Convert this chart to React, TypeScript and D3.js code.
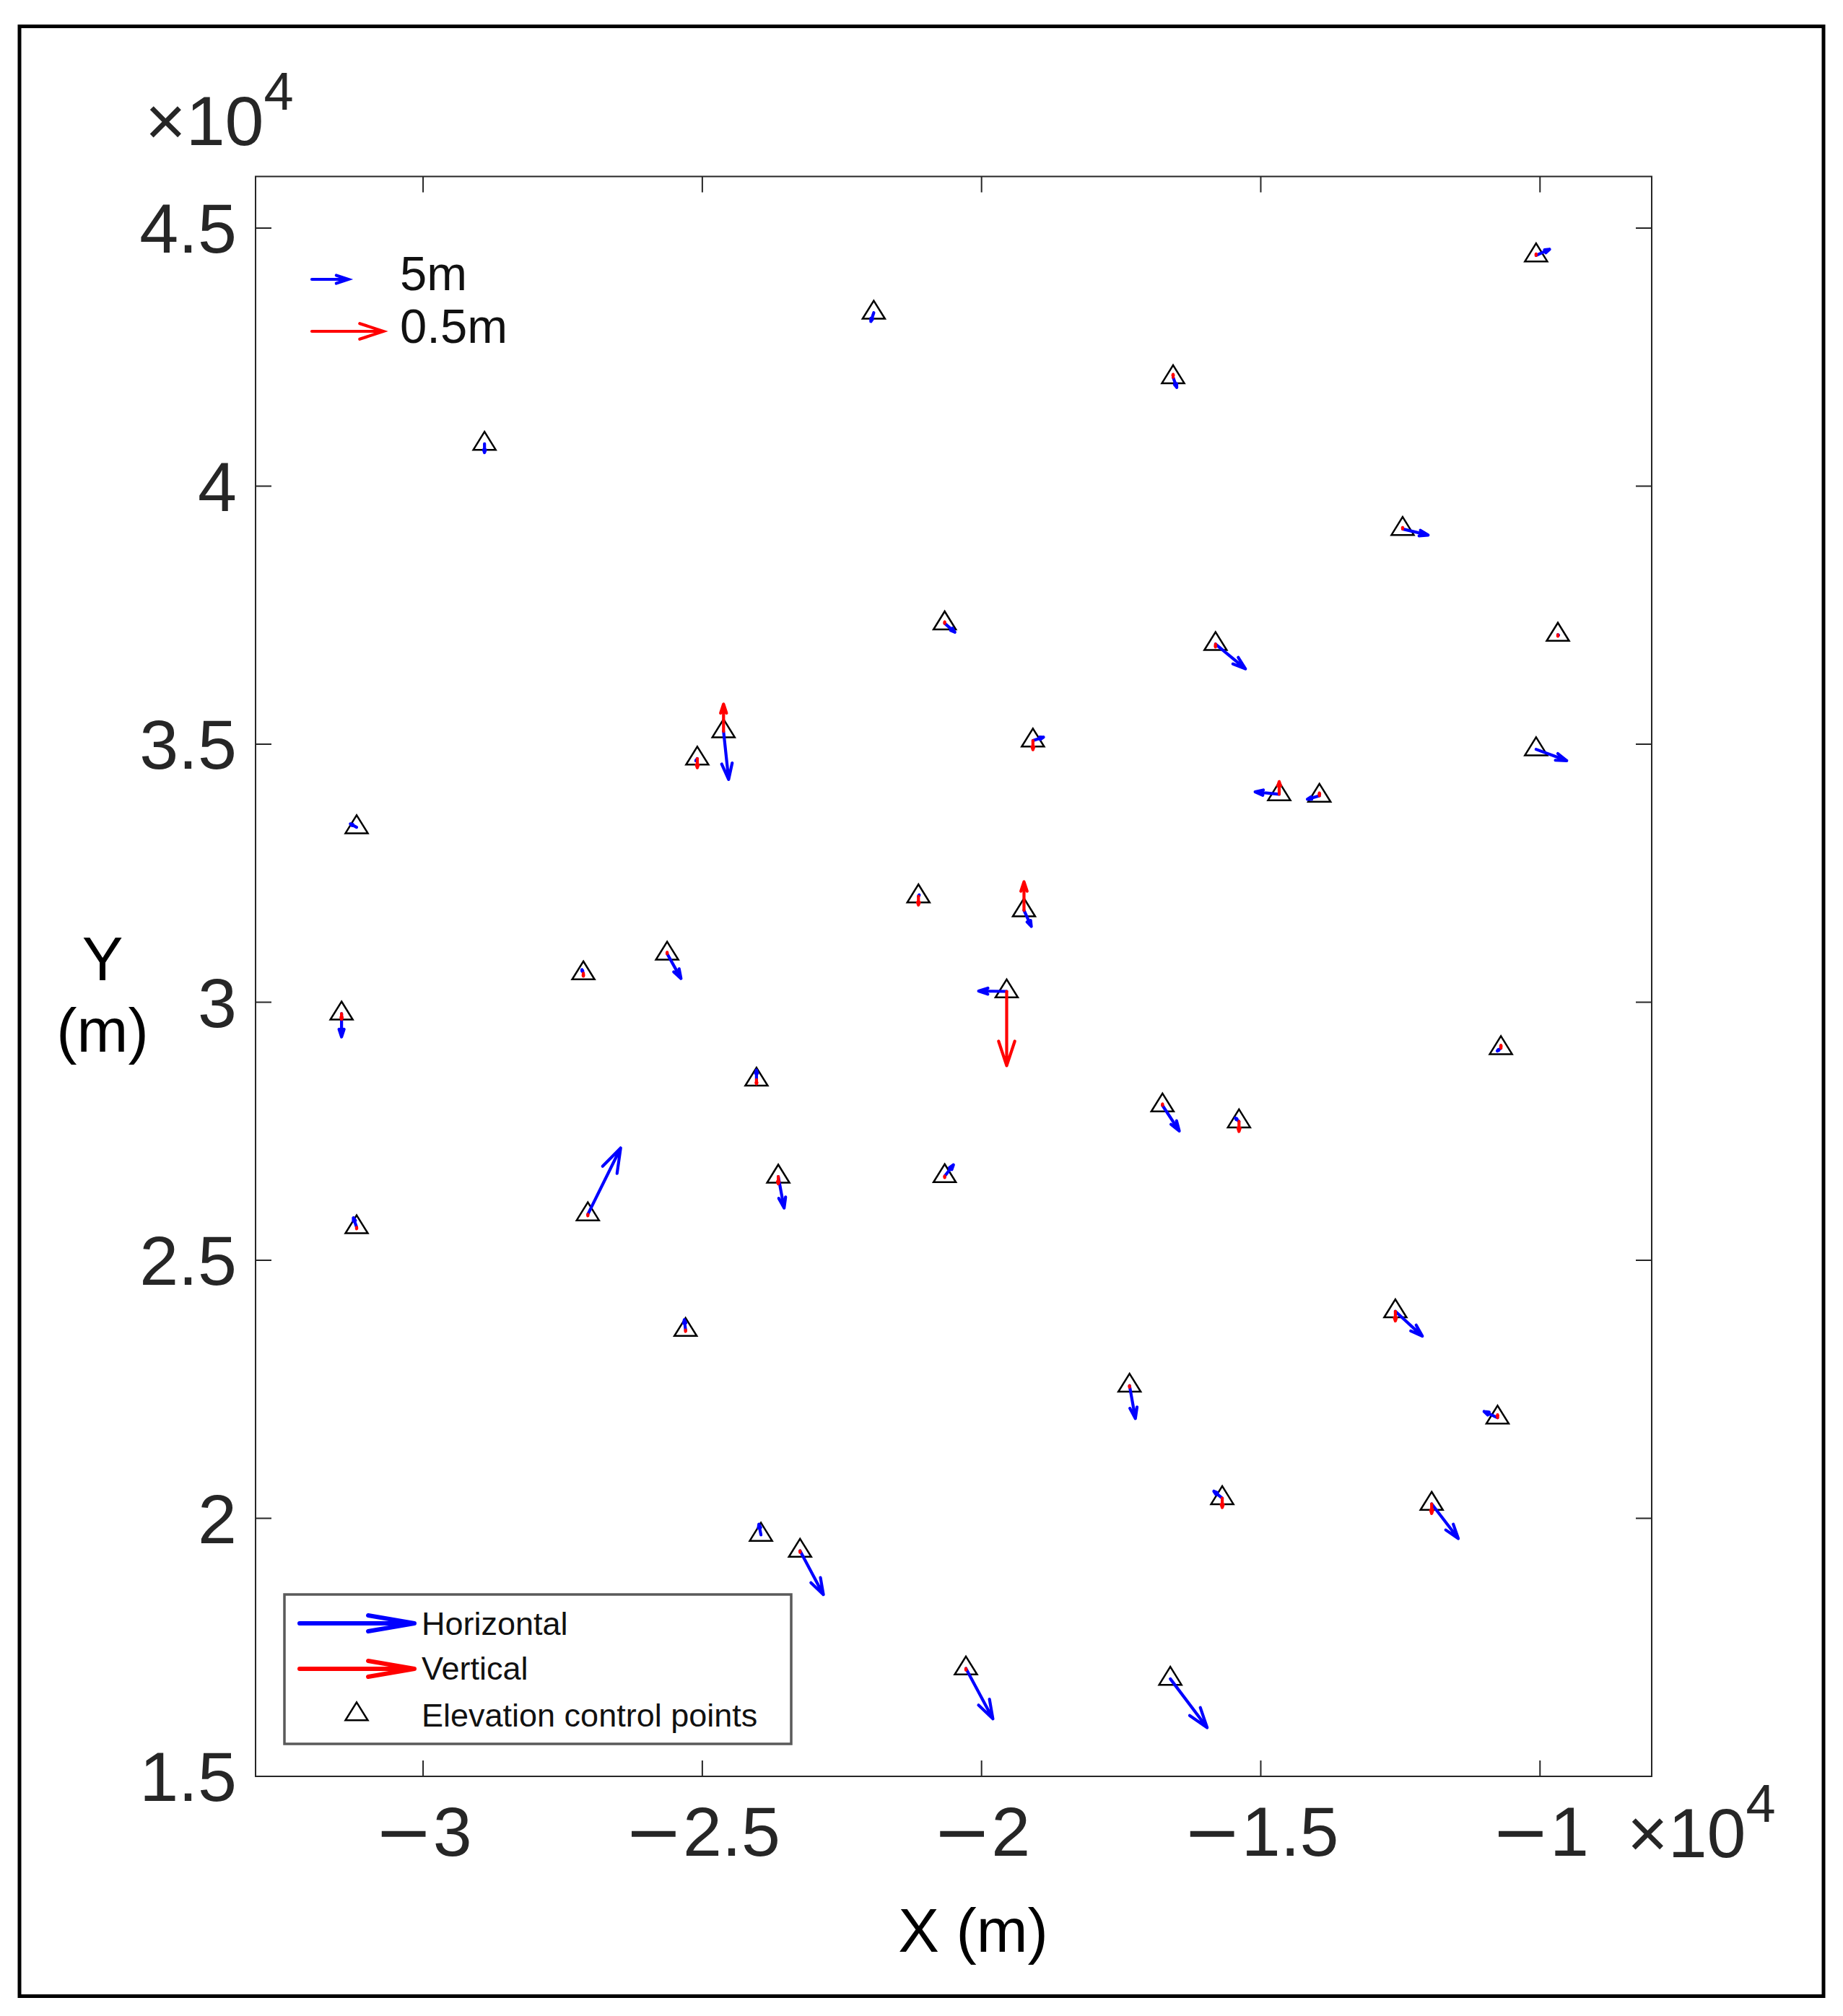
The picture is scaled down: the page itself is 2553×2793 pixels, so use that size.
import React, { useEffect, useRef } from 'react';
import * as d3 from 'd3';

const svgWidth = 2553;
const svgHeight = 2793;

// control point positions (m)
const pointX = [-10070, -21930, -16570, -28900, -12460, -20660, -9680, -15810, -24620, -25090,
  -19080, -14670, -13950, -10070, -31190, -21130, -19240, -25630, -27130, -19550,
  -31460, -24030, -10700, -16760, -15390, -23640, -20660, -27050, -31190, -25300,
  -12590, -17350, -10760, -15690, -11940, -23950, -23250, -20280, -16620];
const pointY = [44470, 43360, 42110, 40820, 39170, 37340, 37120, 36940, 35250, 34720,
  35070, 34030, 34000, 34900, 33390, 32050, 31780, 30940, 30560, 30210,
  29780, 28500, 29110, 28000, 27690, 26620, 26630, 25890, 25640, 23650,
  24010, 22570, 21950, 20390, 20280, 19680, 19370, 17090, 16890];

// horizontal displacement, east and north parts (m)
const horizE = [1.85, -0.4, 0.5, 0.0, 3.5, 1.4, 0.1, 4.1, 0.7, -0.2,
  1.45, -3.3, -1.65, 4.2, -0.86, 0.1, 1.0, 1.9, -0.2, -3.85,
  0.0, 0.0, -0.5, 2.3, -0.5, 0.8, 1.2, 4.5, -0.45, -0.17,
  3.7, 0.8, -1.85, -1.15, 3.65, -0.29, 3.2, 3.7, 5.05];
const horizN = [0.84, -1.2, -1.4, -1.2, -0.84, -1.2, -0.05, -3.4, -6.6, -0.3,
  0.47, 0.33, -0.47, -1.55, 0.47, 0.2, -2.2, -3.4, 0.5, 0.05,
  -3.2, 1.3, -0.38, -3.5, 0.47, -4.3, 1.55, 9.1, 1.3, 1.4,
  -3.4, -4.5, 0.85, 0.95, -4.75, 1.45, -6.0, -6.9, -6.7];

// vertical displacement (m)
const vertU = [0.01, 0, 0.02, 0, 0.01, 0.01, -0.01, -0.02, 0.19, -0.064,
  -0.064, 0.088, 0.02, 0, 0, -0.06, 0.2, 0.01, -0.02, -0.52,
  -0.04, -0.03, 0.02, 0.01, -0.07, -0.05, -0.01, -0.01, -0.01, -0.01,
  -0.067, -0.01, 0.02, -0.065, -0.067, 0, -0.01, -0.01, 0];

const xTicks = [-30000, -25000, -20000, -15000, -10000];
const xTickLabels = ['3', '2.5', '2', '1.5', '1'];
const yTicks = [15000, 20000, 25000, 30000, 35000, 40000, 45000];
const yTickLabels = ['1.5', '2', '2.5', '3', '3.5', '4', '4.5'];

const legendLabels = ['Horizontal', 'Vertical', 'Elevation control points'];
const scaleRefH = 5;
const scaleRefV = 0.5;

const plotLeft = 354;
const plotRight = 2288;
const plotTop = 244.5;
const plotBottom = 2461;
const tickLen = 22;
const axisColor = '#262626';
const font = '"Liberation Sans", Arial, sans-serif';

// quiver style arrow, head like matlab (alpha = beta = 0.33)
const arrowPath = (x0, y0, u, v) => {
  const x1 = x0 + u;
  const y1 = y0 + v;
  if (Math.hypot(u, v) < 1.5) return `M${x0},${y0}L${x1},${y1}`;
  const a = 0.33, b = 0.33;
  const hx1 = x1 - a * (u + b * v), hy1 = y1 - a * (v - b * u);
  const hx2 = x1 - a * (u - b * v), hy2 = y1 - a * (v + b * u);
  return `M${x0},${y0}L${x1},${y1}M${hx1},${hy1}L${x1},${y1}L${hx2},${hy2}`;
};

const trianglePath = 'M0,-16.7L15.5,8.3L-15.5,8.3Z';

const App = () => {
  const chartRef = useRef(null);

  useEffect(() => {
    if (!chartRef.current) return;
    d3.select(chartRef.current).selectAll('svg').remove();

    const svg = d3.select(chartRef.current)
      .append('svg')
      .attr('width', svgWidth)
      .attr('height', svgHeight)
      .style('position', 'absolute')
      .style('left', 0)
      .style('top', 0)
      .style('background', '#fff')
      .attr('font-family', font);

    const x = d3.scaleLinear().domain([-33000, -8000]).range([plotLeft, plotRight]);
    const y = d3.scaleLinear().domain([15000, 46000]).range([plotBottom, plotTop]);
    const hLen = d3.scaleLinear().domain([0, 1]).range([0, 10.1]);
    const vLen = d3.scaleLinear().domain([0, 1]).range([0, 198]);

    // figure border
    svg.append('rect')
      .attr('x', 27).attr('y', 36.5)
      .attr('width', 2499).attr('height', 2729)
      .attr('fill', 'none').attr('stroke', '#000').attr('stroke-width', 5);

    // axes box
    svg.append('rect')
      .attr('x', plotLeft).attr('y', plotTop)
      .attr('width', plotRight - plotLeft).attr('height', plotBottom - plotTop)
      .attr('fill', '#fff').attr('stroke', axisColor).attr('stroke-width', 2);

    const ticks = svg.append('g').attr('stroke', axisColor).attr('stroke-width', 2);
    xTicks.forEach(t => {
      ticks.append('line').attr('x1', x(t)).attr('x2', x(t)).attr('y1', plotBottom).attr('y2', plotBottom - tickLen);
      ticks.append('line').attr('x1', x(t)).attr('x2', x(t)).attr('y1', plotTop).attr('y2', plotTop + tickLen);
    });
    yTicks.forEach(t => {
      ticks.append('line').attr('x1', plotLeft).attr('x2', plotLeft + tickLen).attr('y1', y(t)).attr('y2', y(t));
      ticks.append('line').attr('x1', plotRight).attr('x2', plotRight - tickLen).attr('y1', y(t)).attr('y2', y(t));
    });

    xTicks.forEach((t, i) => {
      const txt = svg.append('text')
        .attr('x', x(t)).attr('y', 2571)
        .attr('text-anchor', 'middle')
        .attr('font-size', 97).attr('fill', axisColor);
      txt.append('tspan').attr('font-family', '"DejaVu Sans"').text('\u2212');
      txt.append('tspan').text(xTickLabels[i]);
    });

    yTicks.forEach((t, i) => {
      svg.append('text')
        .attr('x', 328).attr('y', y(t) + 34)
        .attr('text-anchor', 'end')
        .attr('font-size', 97).attr('fill', axisColor)
        .text(yTickLabels[i]);
    });

    // exponent labels
    const expLabel = (ex, ey) => {
      const txt = svg.append('text').attr('x', ex).attr('y', ey)
        .attr('font-size', 97).attr('fill', axisColor);
      txt.append('tspan').attr('font-weight', 300).text('\u00d7');
      txt.append('tspan').text('10');
      txt.append('tspan').attr('font-size', 74).attr('dy', -49).text('4');
    };
    expLabel(201, 201);
    expLabel(2254, 2573);

    // axis titles
    svg.append('text')
      .attr('x', 1348).attr('y', 2704)
      .attr('text-anchor', 'middle').attr('font-size', 85).attr('fill', '#000')
      .text('X (m)');
    svg.append('text')
      .attr('x', 142).attr('y', 1358)
      .attr('text-anchor', 'middle').attr('font-size', 85).attr('fill', '#000')
      .text('Y');
    svg.append('text')
      .attr('x', 142).attr('y', 1457)
      .attr('text-anchor', 'middle').attr('font-size', 85).attr('fill', '#000')
      .text('(m)');

    // control points
    svg.append('g')
      .selectAll('path')
      .data(pointX)
      .enter()
      .append('path')
      .attr('transform', (d, i) => `translate(${x(d)},${y(pointY[i])})`)
      .attr('d', trianglePath)
      .attr('fill', 'none').attr('stroke', '#000').attr('stroke-width', 2.5);

    // horizontal displacement arrows
    svg.append('g')
      .selectAll('path')
      .data(horizE)
      .enter()
      .append('path')
      .attr('d', (d, i) => arrowPath(x(pointX[i]), y(pointY[i]), hLen(d), -hLen(horizN[i])))
      .attr('fill', 'none').attr('stroke', '#0000ff').attr('stroke-width', 4.2)
      .attr('stroke-linecap', 'round').attr('stroke-linejoin', 'round');

    // vertical displacement arrows
    svg.append('g')
      .selectAll('path')
      .data(vertU.map((u, i) => ({ u, i })).filter(d => d.u !== 0))
      .enter()
      .append('path')
      .attr('d', d => arrowPath(x(pointX[d.i]), y(pointY[d.i]), 0, -vLen(d.u)))
      .attr('fill', 'none').attr('stroke', '#ff0000').attr('stroke-width', 4.2)
      .attr('stroke-linecap', 'round').attr('stroke-linejoin', 'round');

    // scale arrows, top left
    svg.append('path')
      .attr('d', arrowPath(432, 387, hLen(scaleRefH), 0))
      .attr('fill', 'none').attr('stroke', '#0000ff').attr('stroke-width', 4.2)
      .attr('stroke-linecap', 'round');
    svg.append('path')
      .attr('d', arrowPath(432, 459, vLen(scaleRefV), 0))
      .attr('fill', 'none').attr('stroke', '#ff0000').attr('stroke-width', 4.2)
      .attr('stroke-linecap', 'round');
    svg.append('text').attr('x', 554).attr('y', 402).attr('font-size', 67).attr('fill', '#111').text(`${scaleRefH}m`);
    svg.append('text').attr('x', 554).attr('y', 475).attr('font-size', 67).attr('fill', '#111').text(`${scaleRefV}m`);

    // legend box
    const lg = svg.append('g');
    lg.append('rect')
      .attr('x', 394).attr('y', 2209).attr('width', 702).attr('height', 207)
      .attr('fill', '#fff').attr('stroke', '#5a5a5a').attr('stroke-width', 3.5);
    const legendColors = ['#0000ff', '#ff0000'];
    [2249, 2312].forEach((ly, i) => {
      lg.append('path')
        .attr('d', `M415,${ly}L574,${ly}M510,${ly - 11}L574,${ly}L510,${ly + 11}`)
        .attr('fill', 'none').attr('stroke', legendColors[i]).attr('stroke-width', 6)
        .attr('stroke-linecap', 'round').attr('stroke-linejoin', 'round');
    });
    lg.append('path')
      .attr('transform', 'translate(494,2375)')
      .attr('d', trianglePath)
      .attr('fill', 'none').attr('stroke', '#000').attr('stroke-width', 2.5);
    [2265, 2327, 2392].forEach((ly, i) => {
      lg.append('text')
        .attr('x', 584).attr('y', ly)
        .attr('font-size', 45).attr('fill', '#111')
        .text(legendLabels[i]);
    });
  }, []);

  return <div ref={chartRef}></div>;
};

export default App;
